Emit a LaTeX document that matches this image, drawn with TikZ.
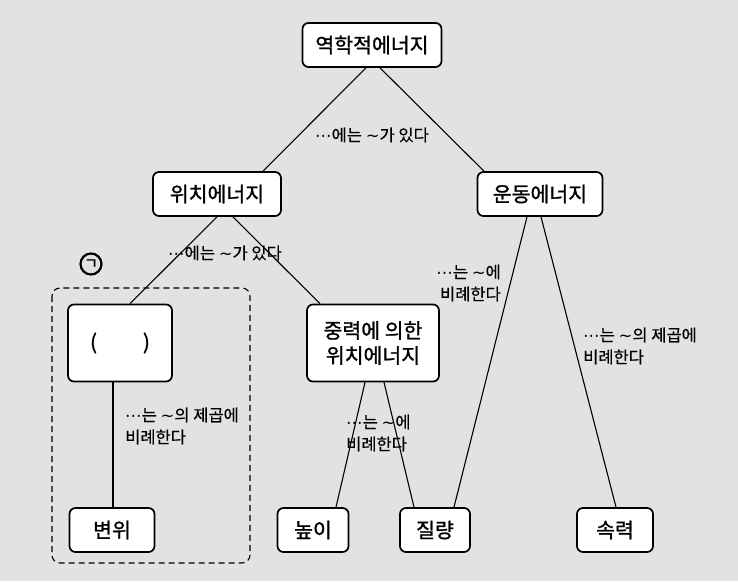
\documentclass[tikz,border=0pt]{standalone}
\usepackage{fontspec}
\setmainfont{Noto Sans CJK KR}
\newfontfamily\boxfont{Noto Sans CJK KR}[FakeBold=1.2]
\newfontfamily\relfont{Noto Sans CJK KR}[FakeBold=0.4]
\newfontfamily\symfont{DejaVu Sans}
\newcommand{\midots}{{\symfont ⋯}}
\newcommand{\swung}{{\symfont ∼}}
\definecolor{paper}{RGB}{226,226,226}

\begin{document}
\begin{tikzpicture}[x=1pt, y=-1pt,
    box/.style = {draw, line width=1.7pt, rounded corners=6pt, fill=white,
      minimum height=44pt, inner sep=2pt, font=\boxfont\fontsize{20.5}{25}\selectfont},
    bigbox/.style = {box, minimum height=77pt, align=center},
    rel/.style = {inner sep=0pt, align=left, font=\relfont\fontsize{16.5}{22}\selectfont},
    link/.style = {line width=1.1pt}]
  \fill[paper] (0,0) rectangle (738,581);
  \useasboundingbox (0,0) rectangle (738,581);

  % boxes
  \node[box, minimum width=139pt] (mech) at (372,45) {역학적에너지};
  \node[box, minimum width=128pt] (pot) at (217,194) {위치에너지};
  \node[box, minimum width=125pt] (kin) at (540,194) {운동에너지};
  \node[bigbox, minimum width=104pt] (paren) at (120,343) {(\hspace{46pt})};
  \node[bigbox, minimum width=132pt] (grav) at (373,343) {중력에 의한\\위치에너지};
  \foreach \name/\x/\w/\txt in {disp/112/85/변위, height/313/71/높이,
      mass/435/70/질량, speed/615/76/속력}
    \node[box, minimum width=\w pt] (\name) at (\x,530) {\txt};

  % group
  \draw[line width=1.1pt, dash pattern=on 6pt off 4pt, rounded corners=8pt]
    (52,288) rectangle (250,563);
  \node[circle, draw, line width=2.2pt, minimum size=21pt, inner sep=0pt,
    font=\boxfont\fontsize{15}{16}\selectfont] (giyeok) at (91,264) {ㄱ};

  % links
  \draw[link] ([xshift=-6pt]mech.south) -- ([xshift=46pt]pot.north);
  \draw[link] ([xshift=8pt]mech.south) -- ([xshift=-56pt]kin.north);
  \draw[link] (pot.south) -- ([xshift=10pt]paren.north);
  \draw[link] ([xshift=16pt]pot.south) -- ([xshift=-53pt]grav.north);
  \draw[link] ([xshift=-13pt]kin.south) -- ([xshift=19pt]mass.north);
  \draw[link] ([xshift=1pt]kin.south) -- ([xshift=1pt]speed.north);
  \draw[link] ([xshift=-7pt]paren.south) -- ([xshift=1pt]disp.north);
  \draw[link] ([xshift=-8pt]grav.south) -- ([xshift=23pt]height.north);
  \draw[link] ([xshift=11pt]grav.south) -- ([xshift=-21pt]mass.north);

  % labels
  \node[rel] (has1) at (372,135) {\midots 에는 \swung 가 있다};
  \node[rel] (has2) at (225,253) {\midots 에는 \swung 가 있다};
  \node[rel, anchor=east, align=right] (prop1) at (501,283) {\midots 는 \swung 에\\비례한다};
  \node[rel, anchor=west] (sq1) at (583,346) {\midots 는 \swung 의 제곱에\\비례한다};
  \node[rel, anchor=west] (sq2) at (125,426) {\midots 는 \swung 의 제곱에\\비례한다};
  \node[rel, anchor=west] (prop2) at (346,433) {\midots 는 \swung 에\\비례한다};
\end{tikzpicture}
\end{document}
